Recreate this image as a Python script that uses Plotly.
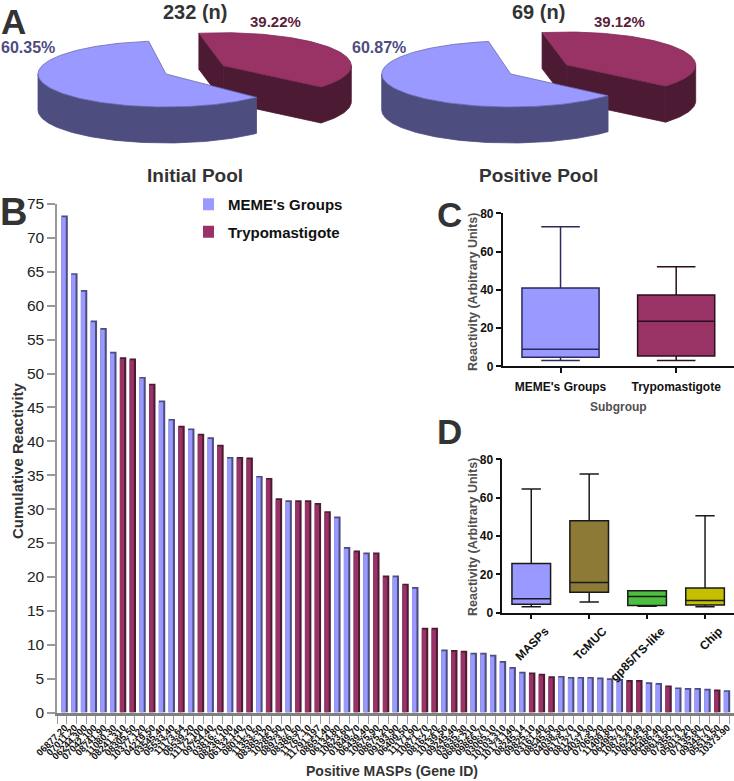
import math
import plotly.graph_objects as go

W, H = 734, 781

# ---- Panel A data ----
pool_names = ["Initial Pool", "Positive Pool"]
pool_counts = ["232 (n)", "69 (n)"]
pool_meme_pct = [60.35, 60.87]
pool_trypo_pct = [39.22, 39.12]

# ---- Panel B data ----
gene_ids = [
    "06877.20", "07011.20", "06244.300", "07042.100", "08741.90", "11080.30", "08241.310", "08305.50",
    "10377.120", "04219.50", "03545.40", "05533.40", "11173.64", "06539.20", "11172.100", "09754.40",
    "03816.70", "08236.100", "06132.140", "08011.70", "11353.50", "08385.120", "10285.50", "08973.70",
    "08386.50", "11767.10", "11791.197", "08651.40", "06134.80", "10623.60", "01849.70", "06439.40",
    "10675.90", "08675.20", "09193.90", "06409.50", "11171.90", "10871.70", "08162.20", "10139.50",
    "09245.40", "03635.30", "06865.210", "09866.70", "03065.10", "10103.310", "10173.140", "08245.14",
    "09825.10", "03161.40", "08545.50", "04038.30", "06175.70", "08127.10", "04037.30", "07065.20",
    "11409.80", "06495.70", "10873.20", "10623.49", "06425.50", "06486.40", "08613.50", "07355.70",
    "05013.20", "07135.60", "09343.70", "05513.50", "10373.90",
]
reactivity = [
    73.3, 64.8, 62.3, 57.8, 56.7, 53.2, 52.4, 52.2, 49.5, 48.5, 46.0, 43.3, 42.3, 41.9, 41.1, 40.6,
    39.5, 37.7, 37.7, 37.6, 34.9, 34.6, 31.6, 31.3, 31.3, 31.3, 30.9, 29.7, 28.9, 24.4, 23.9, 23.6,
    23.6, 20.2, 20.2, 19.0, 18.5, 12.5, 12.5, 9.3, 9.2, 9.1, 8.8, 8.8, 8.5, 7.6, 6.7, 6.0,
    5.9, 5.7, 5.35, 5.4, 5.25, 5.25, 5.25, 5.15, 5.05, 4.95, 4.8, 4.8, 4.45, 4.35, 4.0, 3.7,
    3.6, 3.6, 3.5, 3.4, 3.3,
]
subgroup = list(
    "MMMMMMTTMTMMTMTMTMTTMTTMTTTTMMTMTTMTMTTMTTMMMMMMTTTMMMMMMMTTMMTMMMMTM"
)

# ---- Panel C data ----
c_groups = ["MEME's Groups", "Trypomastigote"]
c_low = [3.0, 3.0]
c_q1 = [4.7, 5.4]
c_med = [8.9, 23.5]
c_q3 = [41.0, 37.3]
c_high = [73.0, 52.1]

# ---- Panel D data ----
d_groups = ["MASPs", "TcMUC", "gp85/TS-like", "Chip"]
d_low = [3.1, 5.6, 3.3, 3.1]
d_q1 = [4.35, 10.6, 3.8, 4.0]
d_med = [7.3, 15.8, 8.5, 6.4]
d_q3 = [25.6, 48.0, 11.5, 12.9]
d_high = [64.5, 72.3, 11.5, 50.6]

# ---- Style ----
FONT = "Liberation Sans"
BLUE, BLUE_DK = "#9999ff", "#4d4d80"
WINE, WINE_DK = "#993366", "#4d1a33"
D_COLORS = ["#9999ff", "#8c7a36", "#4cbf40", "#c4bf00"]
C_COLORS = [BLUE, WINE]
C_LINES = ["#2a2a5c", "#2b0f1e"]
TXT = "#333333"


def fx(p):
    return p / W


def fy(p):
    return 1 - p / H


fig = go.Figure()

# ---- Panel B bars: darker side face behind, light front face on top ----
for code, dark in (("M", BLUE_DK), ("T", WINE_DK)):
    xs = [g for g, s in zip(gene_ids, subgroup) if s == code]
    ys = [v for v, s in zip(reactivity, subgroup) if s == code]
    fig.add_trace(go.Bar(x=xs, y=ys, width=0.66, offset=-0.05, marker=dict(color=dark, line=dict(width=0)),
                         showlegend=False, hoverinfo="skip", xaxis="x", yaxis="y"))
for code, light, name, dark in (("M", BLUE, "MEME's Groups", BLUE_DK), ("T", WINE, "Trypomastigote", WINE_DK)):
    xs = [g for g, s in zip(gene_ids, subgroup) if s == code]
    ys = [v - 0.25 for v, s in zip(reactivity, subgroup) if s == code]
    fig.add_trace(go.Bar(x=xs, y=ys, width=0.45, offset=-0.05, name=name, legendgroup=name,
                         marker=dict(color=light, line=dict(width=0)), xaxis="x", yaxis="y"))

# ---- Panels C and D boxes ----
for i, g in enumerate(c_groups):
    fig.add_trace(go.Box(x=[g], q1=[c_q1[i]], median=[c_med[i]], q3=[c_q3[i]], lowerfence=[c_low[i]],
                         upperfence=[c_high[i]], width=0.667, whiskerwidth=0.5, fillcolor=C_COLORS[i],
                         line=dict(color=C_LINES[i], width=1.5), showlegend=False, xaxis="x2", yaxis="y2"))
for i, g in enumerate(d_groups):
    fig.add_trace(go.Box(x=[g], q1=[d_q1[i]], median=[d_med[i]], q3=[d_q3[i]], lowerfence=[d_low[i]],
                         upperfence=[d_high[i]], width=0.667, whiskerwidth=0.5, fillcolor=D_COLORS[i],
                         line=dict(color="#1a1a1a", width=1.5), showlegend=False, xaxis="x3", yaxis="y3"))


# ---- Panel A: extruded exploded pies, angles come from the percentages ----
def arc(cx, cy, rx, ry, a0, a1, dy=0):
    n = max(2, int(abs(a1 - a0)))
    return [(cx + rx * math.cos(math.radians(a0 + (a1 - a0) * k / n)),
             cy + dy + ry * math.sin(math.radians(a0 + (a1 - a0) * k / n))) for k in range(n + 1)]


def poly(points, fill, line=None):
    fig.add_trace(go.Scatter(x=[p[0] for p in points] + [points[0][0]], y=[p[1] for p in points] + [points[0][1]],
                             mode="lines", fill="toself", fillcolor=fill,
                             line=dict(color=line or fill, width=0.8), hoverinfo="skip", showlegend=False,
                             xaxis="x4", yaxis="y4"))


def pie3d(meme_pct, trypo_pct, blue_c, wine_c, blue_start, wine_start, rx, ry=33, depth=36):
    # Wine (exploded) slice
    wcx, wcy = wine_c
    wine_end = wine_start + trypo_pct * 3.6
    a, b = arc(wcx, wcy, rx, ry, wine_start, wine_start)[0], arc(wcx, wcy, rx, ry, wine_end, wine_end)[0]
    d = (0, depth)
    add = lambda p: (p[0] + d[0], p[1] + d[1])
    poly([a, (wcx, wcy), add((wcx, wcy)), add(a)], WINE_DK)
    poly([(wcx, wcy), b, add(b), add((wcx, wcy))], WINE_DK)
    poly(arc(wcx, wcy, rx, ry, 360, wine_end) + arc(wcx, wcy, rx, ry, wine_end, 360, depth), WINE_DK)
    poly([(wcx, wcy)] + arc(wcx, wcy, rx, ry, wine_start, wine_end), WINE, "#7d2a55")
    # Blue slice
    bcx, bcy = blue_c
    blue_end = blue_start + meme_pct * 3.6
    poly(arc(bcx, bcy, rx, ry, blue_start, 180) + arc(bcx, bcy, rx, ry, 180, blue_start, depth), BLUE_DK)
    poly([(bcx, bcy)] + arc(bcx, bcy, rx, ry, blue_start, blue_end), BLUE, "#6a6ab0")


pie3d(pool_meme_pct[0], pool_trypo_pct[0], (166, 74), (223.3, 65.7), 45, 259, 128)
pie3d(pool_meme_pct[1], pool_trypo_pct[1], (510.7, 74), (566.7, 65), 41, 259, 129)


# ---- Text ----
def note(text, x, y, size, color=TXT, angle=0):
    fig.add_annotation(text=f"<b>{text}</b>", x=fx(x), y=fy(y), xref="paper", yref="paper", showarrow=False,
                       xanchor="center", yanchor="middle", textangle=angle,
                       font=dict(family=FONT, size=size, color=color))


note("A", 13, 21, 35)
note("B", 13, 212, 38)
note("C", 449, 214, 35)
note("D", 449, 431, 35)
note(pool_counts[0], 195, 12, 20)
note(pool_counts[1], 538, 12, 20)
note(pool_names[0], 195, 175.5, 19)
note(pool_names[1], 538.5, 175.5, 19)
note(f"{pool_meme_pct[0]:.2f}%", 28, 47, 16, BLUE_DK)
note(f"{pool_trypo_pct[0]:.2f}%", 275.5, 22, 15, "#5c1f3d")
note(f"{pool_meme_pct[1]:.2f}%", 379, 47, 16, BLUE_DK)
note(f"{pool_trypo_pct[1]:.2f}%", 619, 22, 15, "#5c1f3d")
note("Cumulative Reactivity", 18, 461, 15, TXT, -90)
note("Positive MASPs (Gene ID)", 391.5, 771, 14, TXT)
note("Reactivity (Arbitrary Units)", 473, 292, 12.5, "#505050", -90)
note("Subgroup", 618, 406.5, 12, "#505050")
note("Reactivity (Arbitrary Units)", 473, 537, 12.5, "#505050", -90)

axis_box = dict(showgrid=False, zeroline=False, showline=True, linecolor="#111111", linewidth=1.5,
                ticks="outside", tickcolor="#111111", tickwidth=1.5, ticklen=5, automargin=False)
tickf = dict(family=FONT, size=12, color="#111111", weight=700)

fig.update_layout(
    width=W, height=H, autosize=False, margin=dict(l=0, r=0, t=0, b=0),
    paper_bgcolor="white", plot_bgcolor="rgba(0,0,0,0)",
    barmode="overlay", boxmode="overlay",
    font=dict(family=FONT),
    legend=dict(x=fx(203), y=fy(188), xanchor="left", yanchor="top", tracegroupgap=5, indentation=-15,
                bgcolor="rgba(0,0,0,0)", font=dict(family=FONT, size=15, color="#111111", weight=700)),
    xaxis=dict(domain=[fx(57), 1], type="category", categoryorder="array", categoryarray=gene_ids,
               range=[-0.5, 69.0], tickmode="linear", tick0=0, dtick=1, tickson="boundaries",
               tickangle=-45, tickfont=dict(family=FONT, size=9.5, color="#111111", weight=700),
               ticklabelstandoff=3, ticklabelshift=3,
               ticks="outside", ticklen=8, tickcolor="#999999", tickwidth=1, showgrid=False, zeroline=False,
               showline=True, linecolor="#808080", linewidth=3, layer="below traces", anchor="y", automargin=False),
    yaxis=dict(domain=[fy(712.5), fy(204)], range=[0, 75], tickmode="linear", tick0=0, dtick=5,
               tickfont=dict(family=FONT, size=15.5, color="#222222"), ticks="outside", ticklen=8,
               tickcolor="#999999", tickwidth=1.5, showgrid=False, zeroline=False, showline=True,
               linecolor="#999999", linewidth=1.5, anchor="x", automargin=False),
    xaxis2=dict(domain=[fx(502.7), 1], range=[-0.5, 1.5], type="category", categoryorder="array",
                categoryarray=c_groups, tickfont=tickf, ticklabelstandoff=4, anchor="y2", **axis_box),
    yaxis2=dict(domain=[fy(366.3), fy(213.3)], range=[0, 80], tickmode="linear", tick0=0, dtick=20,
                tickfont=tickf, anchor="x2", **axis_box),
    xaxis3=dict(domain=[fx(502.3), 1], range=[-0.5, 3.5], type="category", categoryorder="array",
                categoryarray=d_groups, tickangle=-45, tickfont=tickf, ticklabelshift=14, anchor="y3", **axis_box),
    yaxis3=dict(domain=[fy(612.7), fy(459.3)], range=[0, 80], tickmode="linear", tick0=0, dtick=20,
                tickfont=tickf, anchor="x3", **axis_box),
    xaxis4=dict(domain=[0, 1], range=[0, W], visible=False, anchor="y4", automargin=False),
    yaxis4=dict(domain=[0, 1], range=[H, 0], visible=False, anchor="x4", automargin=False),
)

fig.write_html("out.html", config={"displayModeBar": False}, post_script="document.body.style.margin='0';")
